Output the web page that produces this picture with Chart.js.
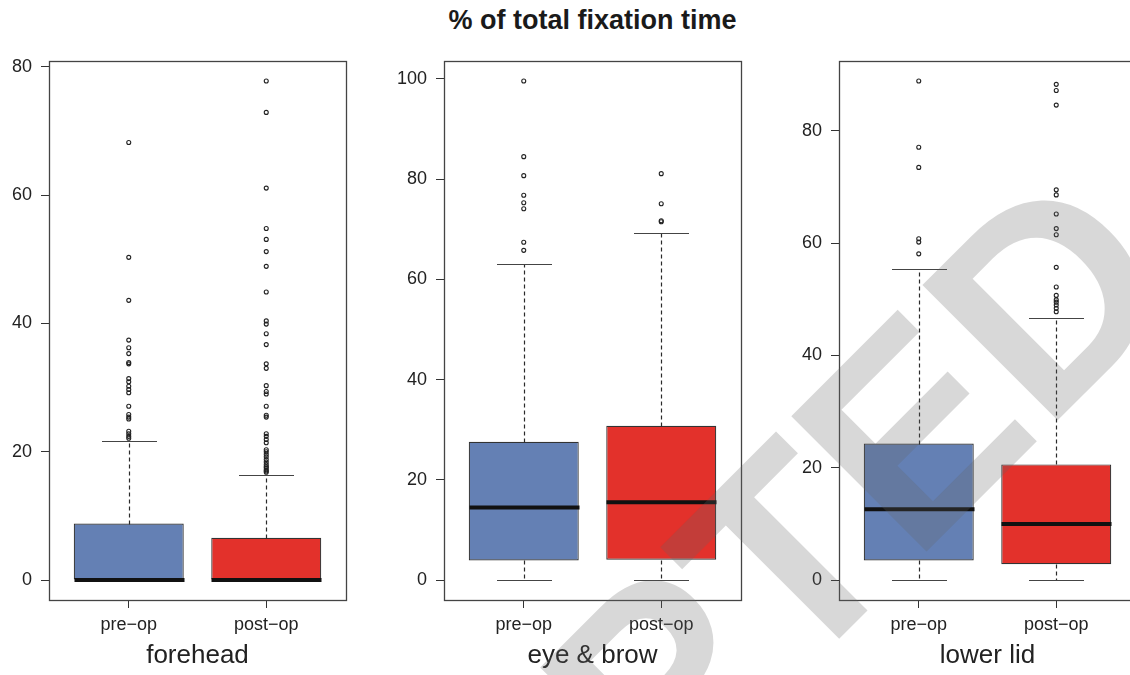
<!DOCTYPE html>
<html>
<head>
<meta charset="utf-8">
<script src="https://cdn.jsdelivr.net/npm/chart.js@4/dist/chart.umd.min.js"></script>
<style>
  html, body { margin: 0; padding: 0; background: #fff; }
  body { width: 1130px; height: 675px; overflow: hidden; position: relative; }
  #title {
    position: absolute; left: 0; width: 1185px; top: 7px;
    text-align: center; font: bold 27px/27px "Liberation Sans", Arial, sans-serif; color: #1a1a1a;
  }
  canvas { position: absolute; top: 0; }
  #stamp { pointer-events: none; }
</style>
</head>
<body>
<div id="title">% of total fixation time</div>
<canvas id="c0" width="360" height="675" style="left:0px"></canvas>
<canvas id="c1" width="360" height="675" style="left:395px"></canvas>
<canvas id="c2" width="360" height="675" style="left:790px"></canvas>
<canvas id="stamp" width="1130" height="675" style="left:0px"></canvas>
<script>
// Panels and groups
const PANELS = ['forehead', 'eye & brow', 'lower lid'];
const CATEGORIES = ['pre\u2212op', 'post\u2212op'];
const Y_TICKS = [[0, 20, 40, 60, 80], [0, 20, 40, 60, 80, 100], [0, 20, 40, 60, 80]];

// Box statistics per panel: [pre-op, post-op]
const LOWER  = [[0, 0], [0, 0], [0, 0]];
const Q1     = [[0, 0], [3.9, 4.05], [3.5, 2.8]];
const MEDIAN = [[0, 0], [14.5, 15.5], [12.6, 10.0]];
const Q3     = [[8.8, 6.6], [27.6, 30.8], [24.3, 20.6]];
const UPPER  = [[21.7, 16.3], [63.0, 69.3], [55.4, 46.6]];

// Outliers per panel
const OUT_PRE = [
  [68.2, 50.3, 43.6, 37.4, 36.2, 35.3, 33.9, 33.7, 31.4, 30.9, 30.2, 29.7, 29.2, 27.1, 25.8, 25.4, 25.1, 23.2, 22.8, 22.4, 22.1],
  [99.6, 84.5, 80.7, 76.8, 75.3, 74.1, 67.4, 65.8],
  [88.9, 77.1, 73.5, 60.8, 60.2, 58.1]
];
const OUT_POST = [
  [77.8, 72.9, 61.1, 54.8, 53.1, 51.2, 48.9, 44.9, 40.4, 39.9, 38.4, 36.7, 33.7, 33.0, 30.3, 29.4, 29.0, 27.1, 25.7, 25.4,
   22.8, 22.4, 21.9, 21.4, 20.3, 20.0, 19.6, 19.2, 18.8, 18.4, 18.0, 17.7, 17.5, 17.2, 17.0, 16.8],
  [81.1, 75.1, 71.7, 71.5],
  [88.3, 87.2, 84.6, 69.5, 68.6, 65.2, 62.6, 61.5, 55.7, 52.2, 50.7, 49.9, 49.5, 49.0, 48.4, 47.8]
];

const BOX_COLORS = ['#6480b4', '#e3312b'];
const INK = '#222';
const FONT = '"Liberation Sans", Arial, sans-serif';
Chart.defaults.font.family = FONT;

// whiskers, staples, medians and the plot frame
const boxParts = {
  id: 'boxParts',
  afterDatasetsDraw(chart, args, opts) {
    const p = opts.panel;
    const { ctx, chartArea, scales: { x, y } } = chart;
    const py = v => Math.round(y.getPixelForValue(v)) + 0.5;
    ctx.save();
    for (let i = 0; i < 2; i++) {
      const cx = Math.round(x.getPixelForValue(i + 1)) + 0.5;
      const half = x.getPixelForValue(i + 1.4) - x.getPixelForValue(i + 1);
      ctx.strokeStyle = '#2a2a2a';
      ctx.lineWidth = 1.2;
      ctx.setLineDash([4, 3]);
      ctx.beginPath();
      ctx.moveTo(cx, py(Q3[p][i])); ctx.lineTo(cx, py(UPPER[p][i]));
      ctx.moveTo(cx, py(Q1[p][i])); ctx.lineTo(cx, py(LOWER[p][i]));
      ctx.stroke();
      ctx.setLineDash([]);
      ctx.strokeStyle = '#444';
      ctx.beginPath();
      ctx.moveTo(cx - half / 2, py(UPPER[p][i])); ctx.lineTo(cx + half / 2, py(UPPER[p][i]));
      ctx.moveTo(cx - half / 2, py(LOWER[p][i])); ctx.lineTo(cx + half / 2, py(LOWER[p][i]));
      ctx.stroke();
      ctx.lineWidth = 4;
      ctx.strokeStyle = '#111';
      ctx.beginPath();
      ctx.moveTo(cx - half, y.getPixelForValue(MEDIAN[p][i]));
      ctx.lineTo(cx + half, y.getPixelForValue(MEDIAN[p][i]));
      ctx.stroke();
    }
    ctx.lineWidth = 1.3;
    ctx.strokeStyle = '#444';
    ctx.strokeRect(Math.round(chartArea.left) + 0.5, Math.round(chartArea.top) + 0.5,
      Math.round(chartArea.width), Math.round(chartArea.height));
    ctx.restore();
  }
};

function makePanel(p) {
  const all = [].concat(LOWER[p], UPPER[p], OUT_PRE[p], OUT_POST[p]);
  const lo = Math.min(...all), hi = Math.max(...all);
  const pad = (hi - lo) * 0.04;

  new Chart(document.getElementById('c' + p), {
    type: 'bar',
    data: {
      datasets: [
        {
          data: [0, 1].map(i => ({ x: i + 1, y: [Q1[p][i], Q3[p][i]] })),
          backgroundColor: BOX_COLORS,
          borderColor: '#333',
          borderWidth: 1.2,
          borderSkipped: false,
          categoryPercentage: 1,
          barPercentage: 0.8
        },
        {
          type: 'scatter',
          data: OUT_PRE[p].map(v => ({ x: 1, y: v })).concat(OUT_POST[p].map(v => ({ x: 2, y: v }))),
          pointRadius: 2,
          pointBorderWidth: 1.1,
          pointBorderColor: INK,
          pointBackgroundColor: 'rgba(0,0,0,0)'
        }
      ]
    },
    options: {
      responsive: false,
      animation: false,
      events: [],
      layout: { padding: { top: 61, right: 14, left: 0, bottom: 0 } },
      plugins: { legend: { display: false }, tooltip: { enabled: false }, boxParts: { panel: p } },
      scales: {
        x: {
          type: 'linear', min: 0.42, max: 2.58, offset: false,
          afterBuildTicks: s => { s.ticks = [1, 2].map(v => ({ value: v })); },
          afterFit: s => { s.height = 75; },
          ticks: {
            callback: v => CATEGORIES[Math.round(v) - 1],
            font: { size: 18 }, color: INK, padding: 6, maxRotation: 0, autoSkip: false
          },
          grid: { display: true, offset: false, drawOnChartArea: false, drawTicks: true, tickLength: 8, color: '#333' },
          border: { display: false },
          title: { display: true, text: PANELS[p], font: { size: 26 }, color: INK, padding: { top: 0, bottom: 4 } }
        },
        y: {
          min: lo - pad, max: hi + pad,
          afterBuildTicks: s => { s.ticks = Y_TICKS[p].map(v => ({ value: v })); },
          afterFit: s => { s.width = 49; },
          ticks: { font: { size: 18 }, color: INK, padding: 9 },
          grid: { display: true, drawOnChartArea: false, drawTicks: true, tickLength: 8, color: '#333' },
          border: { display: false }
        }
      }
    },
    plugins: [boxParts]
  });
}

[0, 1, 2].forEach(makePanel);

// diagonal "ACCEPTED" stamp laid over the figure
(function stamp() {
  const ctx = document.getElementById('stamp').getContext('2d');
  ctx.font = 'bold 278px ' + FONT;
  const lead = ctx.measureText('ACCEPTE').width;
  ctx.translate(1044.5, 433.5);
  ctx.rotate(-Math.PI / 4);
  ctx.fillStyle = 'rgba(100,100,100,0.25)';
  ctx.textBaseline = 'alphabetic';
  ctx.fillText('ACCEPTED', -lead, 0);
})();
</script>
</body>
</html>
